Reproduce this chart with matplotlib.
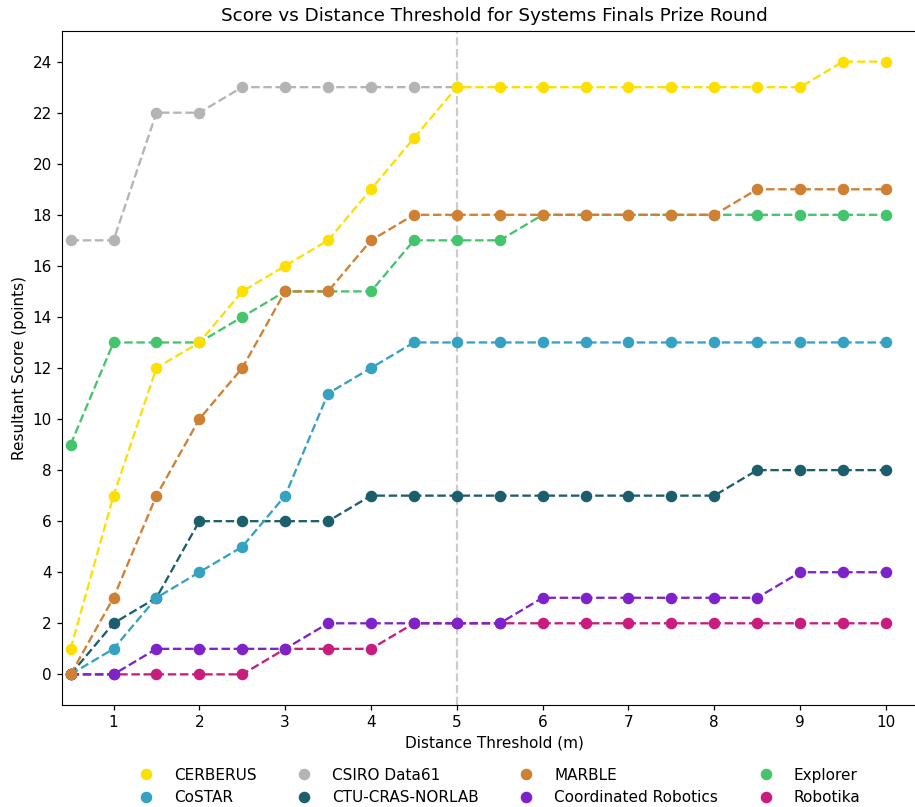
import matplotlib
matplotlib.use("Agg")
import matplotlib.pyplot as plt
from matplotlib.lines import Line2D

x_full = [0.5, 1, 1.5, 2, 2.5, 3, 3.5, 4, 4.5, 5, 5.5, 6, 6.5, 7, 7.5, 8, 8.5, 9, 9.5, 10]

teams = ["CERBERUS", "CoSTAR", "CSIRO Data61", "CTU-CRAS-NORLAB",
         "MARBLE", "Coordinated Robotics", "Explorer", "Robotika"]

cerberus = [1, 7, 12, 13, 15, 16, 17, 19, 21, 23, 23, 23, 23, 23, 23, 23, 23, 23, 24, 24]
costar = [0, 1, 3, 4, 5, 7, 11, 12, 13, 13, 13, 13, 13, 13, 13, 13, 13, 13, 13, 13]
csiro = [17, 17, 22, 22, 23, 23, 23, 23, 23, 23]
ctu = [0, 2, 3, 6, 6, 6, 6, 7, 7, 7, 7, 7, 7, 7, 7, 7, 8, 8, 8, 8]
marble = [0, 3, 7, 10, 12, 15, 15, 17, 18, 18, 18, 18, 18, 18, 18, 18, 19, 19, 19, 19]
coordinated = [0, 0, 1, 1, 1, 1, 2, 2, 2, 2, 2, 3, 3, 3, 3, 3, 3, 4, 4, 4]
explorer = [9, 13, 13, 13, 14, 15, 15, 15, 17, 17, 17, 18, 18, 18, 18, 18, 18, 18, 18, 18]
robotika = [0, 0, 0, 0, 0, 1, 1, 1, 2, 2, 2, 2, 2, 2, 2, 2, 2, 2, 2, 2]

series = {
    "CERBERUS": cerberus,
    "CoSTAR": costar,
    "CSIRO Data61": csiro,
    "CTU-CRAS-NORLAB": ctu,
    "MARBLE": marble,
    "Coordinated Robotics": coordinated,
    "Explorer": explorer,
    "Robotika": robotika,
}

colors = {
    "CERBERUS": "#fde000",
    "CoSTAR": "#36a2c1",
    "CSIRO Data61": "#b4b4b4",
    "CTU-CRAS-NORLAB": "#1d5e6d",
    "MARBLE": "#d08033",
    "Coordinated Robotics": "#7e22c9",
    "Explorer": "#45c46e",
    "Robotika": "#c81c7e",
}

# drawing order (bottom to top)
draw_order = ["Robotika", "Coordinated Robotics", "CTU-CRAS-NORLAB", "CoSTAR",
              "Explorer", "MARBLE", "CSIRO Data61", "CERBERUS"]

fig = plt.figure(figsize=(9.15, 8.07), dpi=100)
ax = fig.add_axes([0.0678, 0.1264, 0.945, 0.8352])

ax.axvline(5, color="#cccccc", linestyle="--", linewidth=1.6, zorder=1)

for name in draw_order:
    ys = series[name]
    ax.plot(x_full[:len(ys)], ys, linestyle="--", marker="o", markersize=7.3,
            linewidth=1.65, color=colors[name], zorder=2)

ax.set_xlim(0.4, 10.475)
ax.set_ylim(-1.2, 25.2)
ax.set_xticks(range(1, 11))
ax.set_yticks(range(0, 25, 2))
ax.tick_params(labelsize=11, length=3.9, width=0.9)
ax.spines["right"].set_visible(False)

ax.set_title("Score vs Distance Threshold for Systems Finals Prize Round", fontsize=13.2, pad=7)
ax.set_xlabel("Distance Threshold (m)", fontsize=11, labelpad=3.5)
ax.set_ylabel("Resultant Score (points)", fontsize=11)

handles = [Line2D([], [], linestyle="none", marker="o", markersize=7.3,
                  color=colors[t]) for t in teams]
fig.legend(handles, teams, loc="center", bbox_to_anchor=(0.546, 0.0254), ncol=4,
           frameon=False, fontsize=11, handlelength=1.0, handletextpad=1.33,
           columnspacing=2.6, labelspacing=0.5, borderpad=0.2)

fig.savefig("out.png", dpi=100)
